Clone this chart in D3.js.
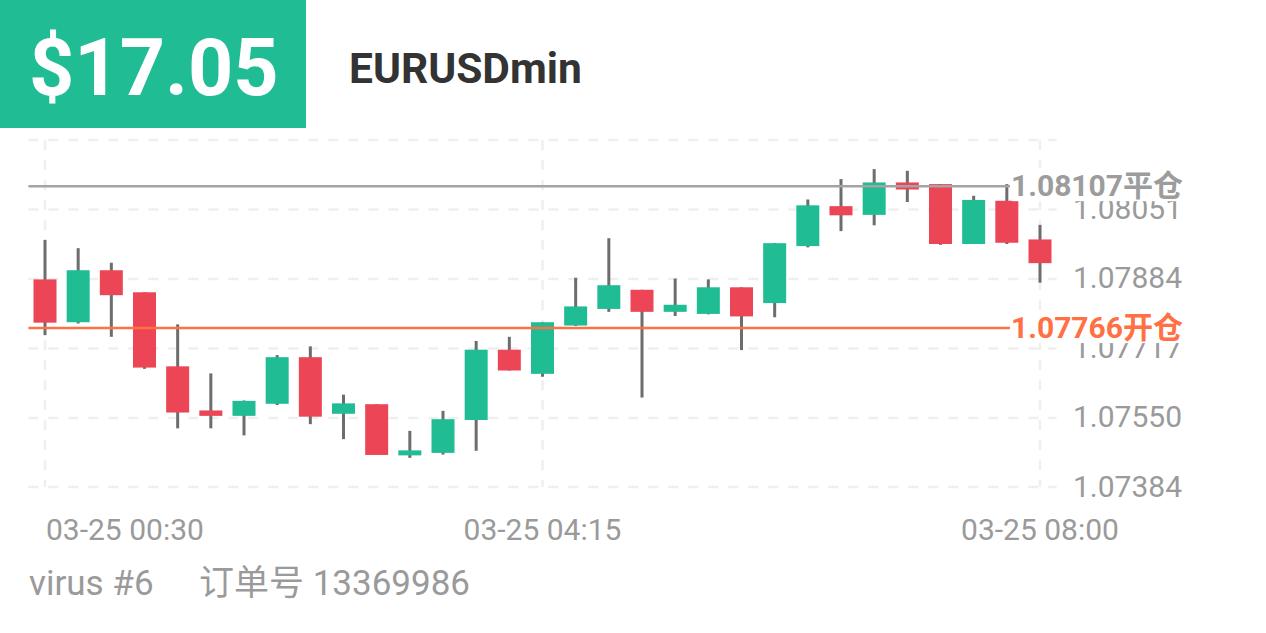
<!DOCTYPE html>
<html>
<head>
<meta charset="utf-8">
<script src="https://cdn.jsdelivr.net/npm/d3@7"></script>
<style>
html,body{margin:0;padding:0;background:#fff;}
svg{display:block;font-family:Roboto,"Noto Sans CJK SC",sans-serif;}
</style>
</head>
<body>
<svg id="chart" width="1266" height="633"></svg>
<script>
const times = ["00:30","00:45","01:00","01:15","01:30","01:45","02:00","02:15","02:30","02:45",
  "03:00","03:15","03:30","03:45","04:00","04:15","04:30","04:45","05:00","05:15",
  "05:30","05:45","06:00","06:15","06:30","06:45","07:00","07:15","07:30","07:45","08:00"];
const openV  = [1.07883,1.07780,1.07905,1.07852,1.07674,1.07568,1.07555,1.07584,1.07696,1.07560,
  1.07583,1.07460,1.07466,1.07545,1.07714,1.07656,1.07772,1.07812,1.07858,1.07805,
  1.07800,1.07864,1.07826,1.07963,1.08059,1.08038,1.08116,1.08112,1.07968,1.08072,1.07979];
const highV  = [1.07978,1.07958,1.07923,1.07852,1.07775,1.07657,1.07592,1.07701,1.07722,1.07606,
  1.07583,1.07519,1.07567,1.07735,1.07745,1.07780,1.07887,1.07982,1.07858,1.07885,
  1.07883,1.07864,1.07970,1.08075,1.08124,1.08148,1.08144,1.08112,1.08084,1.08112,1.08014];
const lowV   = [1.07749,1.07777,1.07745,1.07668,1.07525,1.07525,1.07508,1.07581,1.07535,1.07499,
  1.07461,1.07454,1.07462,1.07471,1.07664,1.07649,1.07771,1.07805,1.07599,1.07795,
  1.07799,1.07713,1.07792,1.07960,1.07999,1.08013,1.08069,1.07966,1.07968,1.07968,1.07875];
const closeV = [1.07779,1.07905,1.07845,1.07671,1.07563,1.07555,1.07591,1.07696,1.07553,1.07585,
  1.07461,1.07472,1.07547,1.07714,1.07664,1.07780,1.07818,1.07869,1.07805,1.07822,
  1.07864,1.07794,1.07970,1.08061,1.08037,1.08116,1.08099,1.07968,1.08074,1.07971,1.07922];
const yGridValues = [1.07384,1.07550,1.07717,1.07884,1.08051,1.08218];
const yTickLabels = ["1.07384","1.07550","1.07717","1.07884","1.08051"];
const xTickTimes = ["00:30","04:15","08:00"];
const xTickLabels = ["03-25 00:30","03-25 04:15","03-25 08:00"];
const closePrice = 1.08107, closeLabel = "1.08107平仓";
const openPrice = 1.07766, openLabel = "1.07766开仓";
const profit = "$17.05";
const symbol = "EURUSDmin";
const footerName = "virus #6";
const footerOrder = "订单号 13369986";

const GREEN = "#20bc94", RED = "#ec4656", WICK = "#6d6d6d", GRAY = "#9a9a9a", GRID = "#efefef";
const svg = d3.select("#chart");

// header
svg.append("rect").attr("x",0).attr("y",0).attr("width",306).attr("height",128).attr("fill",GREEN);
svg.append("text").attr("x",29).attr("y",95).attr("fill","#fff")
  .attr("font-size",79).attr("font-weight",700).text(profit);
svg.append("text").attr("x",349).attr("y",83).attr("fill","#333")
  .attr("font-size",42.5).attr("font-weight",700).text(symbol);

const x = d3.scalePoint().domain(times).range([45,1040]);
const y = d3.scaleLinear().domain([1.07384,1.08218]).range([487,140]);
const half = x.step()/2;
const left = x(times[0]) - half, right = x(times[times.length-1]) + half;

// grid
const g = svg.append("g");
g.selectAll("line.h").data(yGridValues).join("line")
  .attr("x1",left).attr("x2",right).attr("y1",d=>y(d)).attr("y2",d=>y(d))
  .attr("stroke",GRID).attr("stroke-width",2.5).attr("stroke-dasharray","10,10");
g.selectAll("line.v").data(xTickTimes).join("line")
  .attr("x1",d=>x(d)).attr("x2",d=>x(d)).attr("y1",y(yGridValues[yGridValues.length-1])).attr("y2",y(yGridValues[0]))
  .attr("stroke",GRID).attr("stroke-width",2.5).attr("stroke-dasharray","10,10");

// y labels
svg.selectAll("text.yl").data(yTickLabels).join("text")
  .attr("x",1182).attr("y",d=>y(+d)+9.5).attr("text-anchor","end")
  .attr("fill",GRAY).attr("font-size",30).text(d=>d);

// x labels
svg.selectAll("text.xl").data(xTickTimes).join("text")
  .attr("x",(d,i)=> i===0 ? x(d)+1 : x(d))
  .attr("text-anchor",(d,i)=> i===0 ? "start" : "middle")
  .attr("y",540).attr("fill",GRAY).attr("font-size",30)
  .text((d,i)=>xTickLabels[i]);

// candles
const data = times.map((t,i)=>({t,o:openV[i],h:highV[i],l:lowV[i],c:closeV[i]}));
const bw = 23;
const cg = svg.append("g");
cg.selectAll("line.w").data(data).join("line")
  .attr("x1",d=>x(d.t)).attr("x2",d=>x(d.t)).attr("y1",d=>y(d.h)).attr("y2",d=>y(d.l))
  .attr("stroke",WICK).attr("stroke-width",3);
cg.selectAll("rect.b").data(data).join("rect")
  .attr("x",d=>x(d.t)-bw/2).attr("width",bw)
  .attr("y",d=>y(Math.max(d.o,d.c)))
  .attr("height",d=>Math.max(1.5, Math.abs(y(d.o)-y(d.c))))
  .attr("fill",d=>d.c>=d.o?GREEN:RED);

// limit lines
const limits = [{v:closePrice,label:closeLabel,color:"#a4a4a4",tc:"#9c9c9c"},
                {v:openPrice,label:openLabel,color:"#ff7043",tc:"#ff7043"}];
const lg = svg.append("g");
limits.forEach(L=>{
  const yy = y(L.v);
  lg.append("line").attr("x1",left).attr("x2",1010).attr("y1",yy).attr("y2",yy)
    .attr("stroke",L.color).attr("stroke-width",2.5);
  lg.append("rect").attr("x",1012).attr("y",yy-18).attr("width",172).attr("height",33).attr("fill","#fff");
  lg.append("text").attr("x",1183).attr("y",yy+9.5).attr("text-anchor","end")
    .attr("fill",L.tc).attr("font-size",30).attr("font-weight",700).text(L.label);
});

// footer
svg.append("text").attr("x",29).attr("y",595).attr("fill",GRAY).attr("font-size",35).text(footerName);
svg.append("text").attr("x",199).attr("y",595).attr("fill",GRAY).attr("font-size",35).text(footerOrder);
</script>
</body>
</html>
